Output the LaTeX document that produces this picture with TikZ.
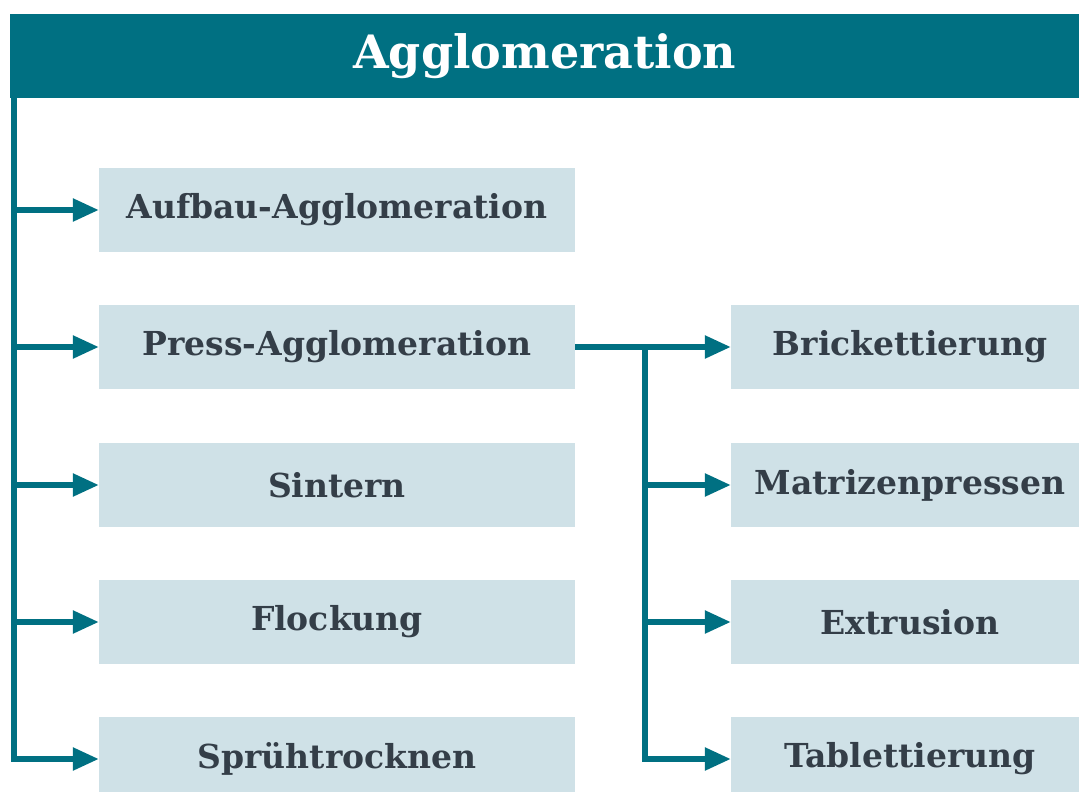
\documentclass[tikz,border=0pt]{standalone}
\usepackage{fontspec}
\setmainfont{DejaVu Serif}
\usetikzlibrary{arrows.meta}
\definecolor{tealA}{HTML}{007082}
\definecolor{boxfill}{HTML}{CFE1E7}
\definecolor{txtc}{HTML}{343E48}
\begin{document}
\begin{tikzpicture}[x=1pt,y=-1pt,
  item/.style={fill=boxfill, minimum width=476pt, minimum height=84pt, inner sep=0pt, text=txtc, font=\fontsize{33}{40}\selectfont\bfseries},
  ritem/.style={item, minimum width=358pt},
  conn/.style={draw=tealA, line width=5.5pt},
  arr/.style={conn, -{Triangle[length=26pt,width=22pt]}}]
\useasboundingbox (0,0) rectangle (1079,792);
\clip (0,0) rectangle (1079,792);
\node[fill=tealA, minimum width=1069pt, minimum height=84pt, inner sep=0pt, anchor=north west, text=white, font=\fontsize{46}{52}\selectfont\bfseries] (head) at (10,14) {Agglomeration};
\node[item] (a) at (337,210) {Aufbau-Agglomeration};
\node[item] (b) at (337,347) {Press-Agglomeration};
\node[item] (c) at (337,485) {Sintern};
\node[item] (d) at (337,622) {Flockung};
\node[item] (e) at (337,759) {Sprühtrocknen};
\node[ritem] (r1) at (910,347) {Brickettierung};
\node[ritem] (r2) at (910,485) {Matrizenpressen};
\node[ritem] (r3) at (910,622) {Extrusion};
\node[ritem] (r4) at (910,759) {Tablettierung};
\coordinate (top) at (14,96);
\draw[arr] (top) |- (e.west);
\draw[arr] (top |- a.west) -- (a.west);
\draw[arr] (top |- b.west) -- (b.west);
\draw[arr] (top |- c.west) -- (c.west);
\draw[arr] (top |- d.west) -- (d.west);
\coordinate (bj) at (645,347);
\draw[arr] (b.east) -- (r1.west);
\draw[arr] (bj) |- (r4.west);
\draw[arr] (bj |- r2.west) -- (r2.west);
\draw[arr] (bj |- r3.west) -- (r3.west);
\end{tikzpicture}
\end{document}
